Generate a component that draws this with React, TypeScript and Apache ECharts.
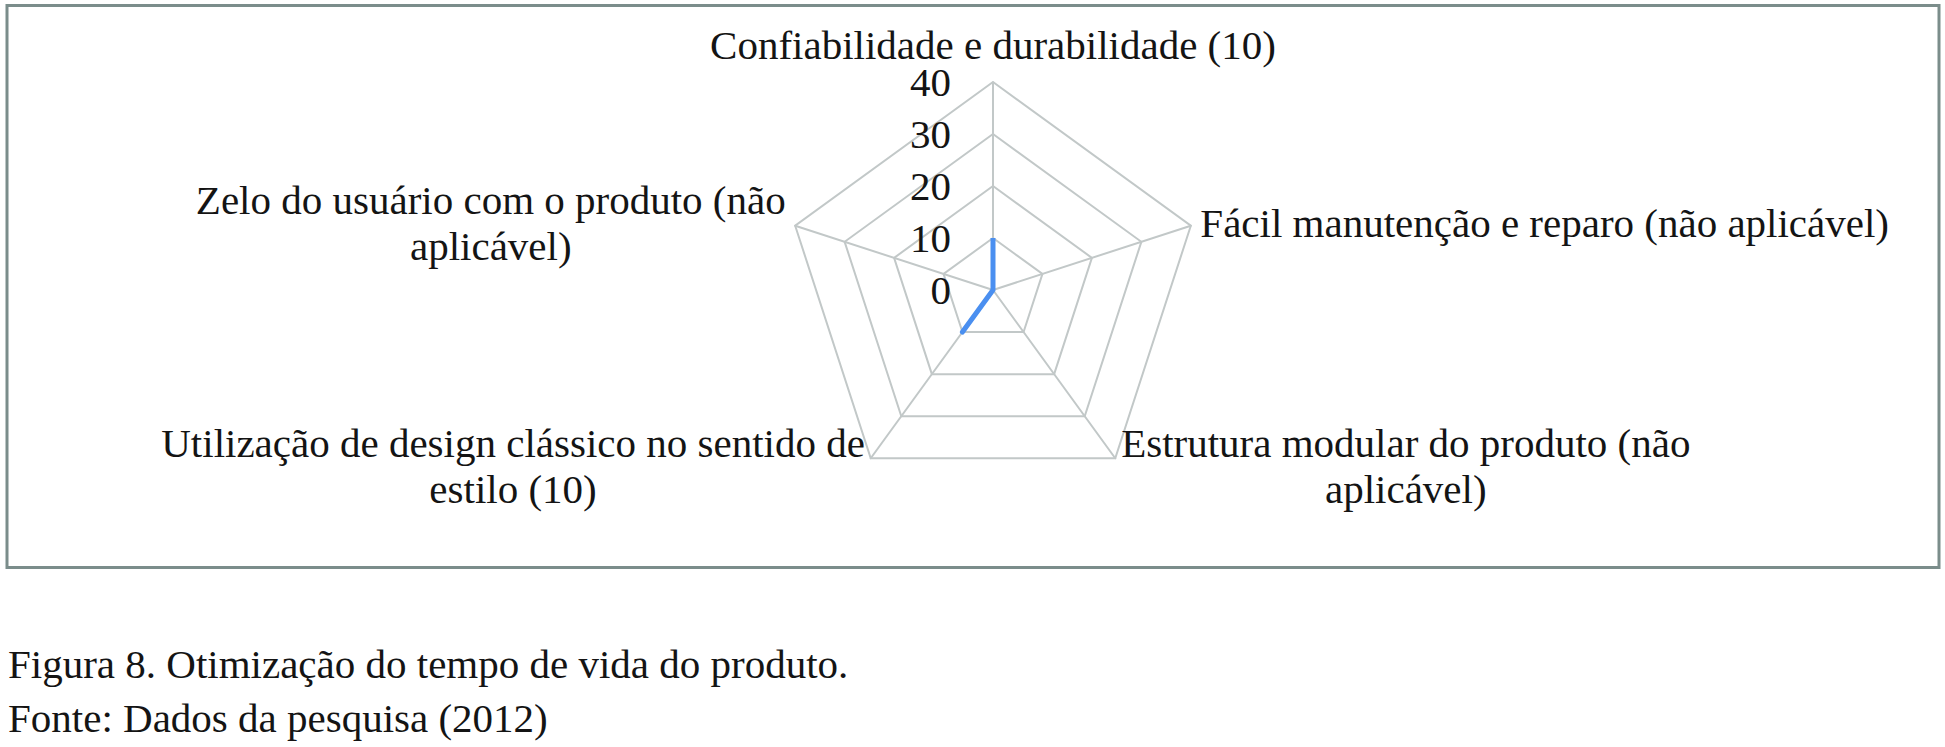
import React, { useEffect, useRef } from "react";
import * as echarts from "echarts";

// Indicators listed counter-clockwise from the top, as ECharts lays them out
const indicatorNames = [
  "Confiabilidade e durabilidade (10)",
  "Zelo do usuário com o produto (não\naplicável)",
  "Utilização de design clássico no sentido de\nestilo (10)",
  "Estrutura modular do produto (não\naplicável)",
  "Fácil manutenção e reparo (não aplicável)",
];
const seriesValues = [10, 0, 10, 0, 0];
const axisMin = 0;
const axisMax = 40;
const captionLines = [
  "Figura 8. Otimização do tempo de vida do produto.",
  "Fonte: Dados da pesquisa (2012)",
];

const FONT = "Liberation Serif";
const FONT_SIZE = 41;
const TEXT_COLOR = "#141414";
const GRID_COLOR = "#c2c8c8";

export default function App() {
  const ref = useRef<HTMLDivElement>(null);
  useEffect(() => {
    if (!ref.current) return;
    const chart = echarts.init(ref.current, null, { renderer: "svg" });
    chart.setOption({
      animation: false,
      backgroundColor: "#ffffff",
      textStyle: { fontFamily: FONT },
      radar: {
        center: [993, 290],
        radius: 208,
        startAngle: 90,
        shape: "polygon",
        splitNumber: 4,
        nameGap: 10,
        axisName: {
          color: TEXT_COLOR,
          fontSize: FONT_SIZE,
          fontFamily: FONT,
          formatter: (name: string) =>
            name
              .split("\n")
              .map((l) => `{c|${l}}`)
              .join("\n"),
          rich: {
            c: {
              align: "center",
              color: TEXT_COLOR,
              fontSize: FONT_SIZE,
              fontFamily: FONT,
              lineHeight: 46,
            },
          },
        },
        axisLine: { show: true, lineStyle: { color: GRID_COLOR, width: 2 } },
        splitLine: { show: true, lineStyle: { color: GRID_COLOR, width: 2 } },
        splitArea: { show: false },
        axisTick: { show: false },
        axisLabel: { show: false },
        indicator: indicatorNames.map((name, i) => ({
          name,
          min: axisMin,
          max: axisMax,
          nameMoveOverlap: false,
          nameGap: i === 0 ? 14 : 10,
          axisLabel:
            i === 0
              ? {
                  show: true,
                  color: TEXT_COLOR,
                  fontSize: FONT_SIZE,
                  fontFamily: FONT,
                  lineHeight: 30,
                  margin: 42,
                }
              : { show: false },
        })),
      },
      series: [
        {
          type: "radar",
          symbol: "none",
          lineStyle: { color: "#4a8ff0", width: 5 },
          itemStyle: { color: "#4a8ff0" },
          data: [{ value: seriesValues, name: "Otimização" }],
        },
      ],
      graphic: [
        {
          type: "rect",
          shape: { x: 7, y: 5.5, width: 1932, height: 562 },
          style: { fill: "none", stroke: "#7b8d8b", lineWidth: 3 },
          silent: true,
        },
        ...captionLines.map((t, i) => ({
          type: "text",
          x: 8,
          y: 643 + i * 54,
          silent: true,
          style: {
            text: t,
            fill: TEXT_COLOR,
            font: `${FONT_SIZE}px ${FONT}`,
            verticalAlign: "top",
          },
        })),
      ],
    });
    return () => chart.dispose();
  }, []);
  return (
    <div
      ref={ref}
      style={{ position: "fixed", left: 0, top: 0, width: 1945, height: 747 }}
    />
  );
}
